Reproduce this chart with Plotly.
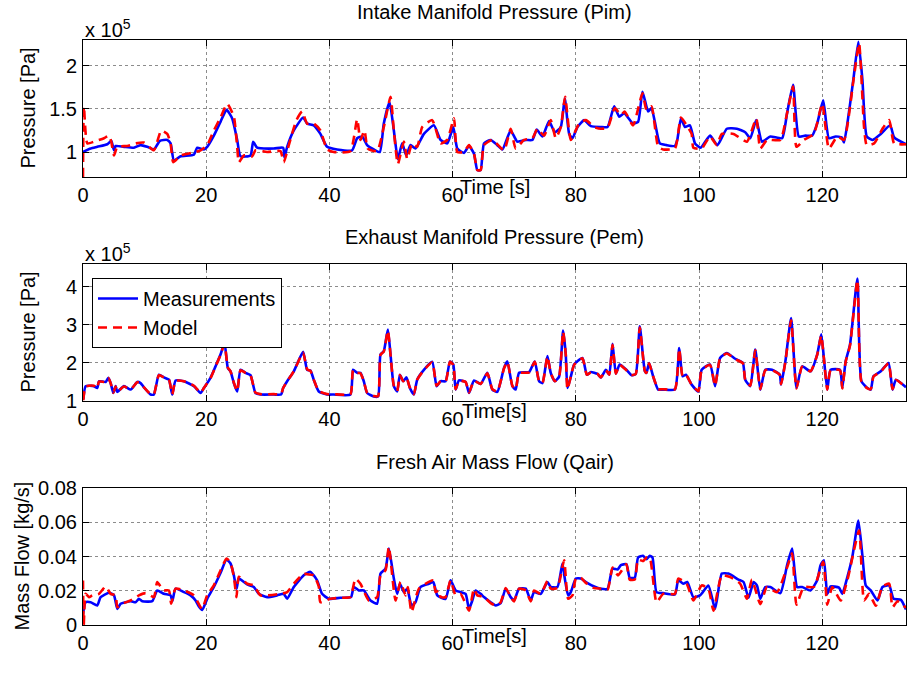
import plotly.graph_objects as go
from plotly.subplots import make_subplots

# ---------------- Intake manifold pressure (x 1e5 Pa) ----------------
t_pim_meas = [0, 1.24, 2.32, 3.95, 4.59, 5.03, 5.30, 6.65, 8.27, 9.35, 10.43, 11.51, 12.49, 13.68, 14.22,
              14.76, 15.84, 18.0, 18.54, 19.62, 20.16, 21.24, 22.32, 23.30, 24.22, 25.03, 25.57, 27.19,
              27.62, 28.27, 30.97, 32.49, 32.70, 33.14, 34.22, 35.73, 36.38, 37.46, 38.54, 39.62, 41.24,
              43.68, 44.50, 45.31, 46.12, 47.21, 48.18, 48.83, 49.76, 50.46, 51.11, 51.82, 52.47, 53.17,
              53.98, 55.34, 56.96, 58.05, 59.13, 60.11, 60.76, 61.84, 62.66, 63.47, 64.01, 64.55, 65.09,
              66.18, 67.26, 68.08, 69.43, 70.51, 71.87, 72.95, 73.66, 74.58, 75.66, 76.59, 77.56, 78.21,
              78.92, 79.46, 80.27, 81.36, 82.44, 84.07, 85.15, 86.23, 87.05, 87.86, 89.29, 90.11, 90.82,
              91.74, 92.28, 92.83, 93.64, 94.73, 96.09, 96.47, 97.07, 97.72, 98.53, 99.35, 100.27, 101.79,
              102.99, 104.51, 106.14, 107.50, 108.32, 109.29, 110.22, 111.58, 113.48, 114.29, 115.27,
              116.20, 117.28, 118.37, 119.18, 120.16, 121.09, 122.17, 123.15, 123.53, 124.08, 125.05,
              125.87, 126.52, 127.23, 128.15, 129.51, 131.03, 131.68, 133.6]
pim_meas = [1.00, 1.04, 1.06, 1.09, 1.13, 1.02, 1.07, 1.06, 1.05, 1.08, 1.06, 1.03, 1.13, 1.14, 1.10,
            0.90, 0.95, 0.97, 1.05, 1.03, 1.06, 1.19, 1.35, 1.49, 1.39, 1.14, 0.95, 0.96,
            1.12, 1.05, 1.04, 1.05, 0.94, 1.06, 1.25, 1.40, 1.33, 1.31, 1.21, 1.06, 1.03,
            1.02, 1.16, 1.18, 1.08, 1.03, 1.00, 1.33, 1.58, 1.25, 0.92, 1.10, 0.96, 1.08,
            1.04, 1.21, 1.31, 1.14, 1.10, 1.29, 1.04, 0.99, 1.07, 0.98, 0.79, 0.79, 1.10,
            1.14, 1.08, 1.03, 1.25, 1.12, 1.14, 1.14, 1.26, 1.18, 1.36, 1.23, 1.29, 1.62,
            1.21, 1.16, 1.29, 1.37, 1.30, 1.29, 1.29, 1.53, 1.41, 1.45, 1.33, 1.35, 1.70,
            1.47, 1.51, 1.35, 1.10, 1.08, 1.07, 1.14, 1.39, 1.29, 1.31, 1.10, 1.05, 1.19,
            1.08, 1.27, 1.27, 1.23, 1.16, 1.37, 1.12, 1.18, 1.16, 1.45, 1.78,
            1.18, 1.19, 1.19, 1.33, 1.60, 1.16, 1.18, 1.17, 1.11, 1.33, 1.84,
            2.28, 1.84, 1.18, 1.14, 1.21, 1.31, 1.17, 1.09]

t_pim_model = [0, 0.15, 0.70, 1.78, 3.41, 4.22, 4.59, 5.03, 5.57, 7.19, 8.54, 9.89, 11.51, 12.70, 13.68,
               14.22, 14.65, 15.84, 18.27, 19.08, 20.16, 21.24, 22.32, 23.41, 24.49, 25.03, 25.30, 26.11,
               27.46, 28.0, 29.89, 32.05, 32.59, 33.41, 34.65, 35.57, 36.38, 37.46, 38.54, 39.62, 40.70,
               43.41, 44.50, 45.04, 45.69, 46.23, 47.75, 48.83, 49.92, 50.46, 51.11, 52.09, 52.63, 53.44,
               54.25, 55.07, 56.69, 58.05, 59.13, 60.22, 60.76, 61.84, 62.66, 63.47, 64.01, 64.55, 65.09,
               66.45, 68.35, 69.43, 70.24, 71.60, 72.95, 73.77, 74.85, 75.93, 76.75, 77.56, 78.27, 79.19,
               80.54, 81.63, 82.98, 84.07, 85.15, 86.34, 87.32, 87.93, 89.29, 90.82, 91.47, 92.28, 93.37,
               94.18, 96.09, 97.07, 97.99, 98.80, 99.08, 100.43, 101.79, 102.88, 103.70, 105.60, 107.77,
               109.29, 109.95, 111.03, 113.21, 114.29, 115.27, 115.82, 117.01, 118.64, 120.0, 121.09,
               122.45, 123.53, 125.05, 125.98, 126.79, 127.23, 128.42, 129.78, 130.87, 131.68, 133.6]
pim_model = [0.71, 1.53, 1.10, 1.12, 1.16, 1.19, 1.12, 0.96, 1.06, 1.07, 1.10, 1.11, 1.02, 1.25, 1.21,
             1.10, 0.88, 0.96, 1.00, 1.02, 1.08, 1.25, 1.40, 1.56, 1.41, 1.06, 0.88, 0.96,
             0.95, 1.02, 1.00, 1.01, 0.88, 1.08, 1.37, 1.47, 1.33, 1.33, 1.25, 1.03, 1.00,
             1.01, 1.38, 1.14, 1.25, 1.04, 1.01, 1.29, 1.64, 1.25, 0.86, 1.12, 0.92, 1.10,
             1.06, 1.29, 1.37, 1.10, 1.14, 1.39, 1.00, 1.00, 1.08, 0.98, 0.79, 0.79, 1.08,
             1.14, 1.02, 1.27, 1.04, 1.14, 1.16, 1.27, 1.19, 1.37, 1.16, 1.29, 1.64, 1.14,
             1.33, 1.37, 1.29, 1.27, 1.28, 1.51, 1.43, 1.47, 1.31, 1.68, 1.49, 1.53, 1.06,
             1.03, 1.04, 1.40, 1.31, 1.21, 1.05, 1.04, 1.18, 1.08, 1.21, 1.21, 1.12,
             1.39, 1.04, 1.14, 1.14, 1.45, 1.76, 1.06, 1.14, 1.21, 1.56, 1.04,
             1.18, 1.14, 1.82, 2.26, 1.29, 1.08, 1.10, 1.27, 1.37, 1.10, 1.09]

# ---------------- Exhaust manifold pressure (x 1e5 Pa) ----------------
t_pem = [0.05, 0.43, 1.78, 2.32, 2.59, 3.68, 4.11, 4.49, 4.92, 5.30, 5.57, 6.65, 7.73, 8.81, 9.35, 9.89,
         10.97, 11.51, 12.32, 13.14, 13.95, 14.49, 15.03, 16.38, 18.0, 19.08, 19.62, 20.70, 21.51, 22.32,
         22.97, 23.51, 23.95, 24.49, 25.03, 25.57, 26.38, 27.19, 28.0, 28.81, 30.97, 32.16, 32.49, 33.14,
         34.22, 35.73, 36.38, 36.92, 37.46, 38.27, 39.62, 40.70, 43.41, 43.84, 44.50, 45.04, 45.58, 46.12,
         47.21, 47.91, 48.29, 48.83, 49.49, 49.92, 50.46, 51.0, 51.44, 51.98, 52.52, 53.06, 53.71, 54.25,
         55.34, 56.69, 57.40, 58.05, 58.86, 59.57, 60.11, 60.49, 61.03, 62.11, 62.66, 63.47, 64.55, 65.64,
         66.45, 67.26, 68.35, 68.89, 69.70, 70.24, 70.79, 72.41, 73.33, 74.04, 74.58, 75.39, 75.93, 76.59,
         77.29, 77.94, 78.37, 78.64, 79.19, 79.73, 81.08, 81.79, 82.44, 83.52, 84.07, 84.88, 85.42, 85.96,
         86.50, 87.12, 88.21, 89.02, 89.73, 90.38, 91.20, 91.47, 91.90, 92.55, 93.37, 94.18, 96.09, 96.79,
         97.34, 97.88, 98.80, 99.89, 100.43, 101.79, 102.61, 103.42, 104.51, 105.87, 107.12, 107.50,
         108.32, 109.13, 109.95, 110.76, 111.85, 113.10, 113.32, 114.02, 114.95, 115.82, 116.74, 118.10,
         119.18, 119.84, 120.27, 120.82, 121.36, 122.88, 123.26, 123.80, 124.51, 125.71, 126.36, 127.34,
         127.88, 128.32, 129.51, 130.76, 131.41, 131.96, 133.6]
pem_meas = [1.04, 1.39, 1.39, 1.34, 1.52, 1.50, 1.61, 1.47, 1.21, 1.39, 1.24, 1.39, 1.30, 1.50, 1.47, 1.36,
            1.17, 1.17, 1.69, 1.62, 1.56, 1.17, 1.54, 1.52, 1.39, 1.21, 1.34, 1.61, 1.91, 2.22,
            2.53, 1.87, 1.78, 1.47, 1.25, 1.82, 1.74, 1.68, 1.21, 1.17, 1.17, 1.17, 1.34, 1.52,
            1.78, 2.29, 1.82, 1.80, 1.56, 1.25, 1.17, 1.17, 1.17, 1.82, 1.74, 1.74, 1.52, 1.21,
            1.12, 1.12, 2.22, 2.31, 2.88, 2.22, 1.39, 1.25, 1.69, 1.52, 1.62, 1.34, 1.17, 1.56,
            1.82, 2.03, 1.39, 1.52, 1.52, 2.04, 1.96, 1.30, 1.54, 1.50, 1.21, 1.54, 1.45, 1.74,
            1.30, 1.24, 1.87, 2.04, 1.39, 1.30, 1.74, 1.76, 2.04, 1.52, 1.47, 2.18, 1.74, 1.52,
            1.64, 2.85, 2.22, 1.34, 1.64, 1.96, 2.13, 1.69, 1.76, 1.71, 1.62, 1.82, 1.69, 2.50,
            1.72, 1.96, 1.82, 1.68, 1.71, 2.96, 1.79, 1.74, 2.00, 1.65, 1.30, 1.30, 1.30, 2.39,
            1.65, 1.69, 1.43, 1.25, 1.82, 1.96, 1.39, 2.13, 2.26, 2.11, 2.00, 1.56,
            1.39, 2.35, 1.30, 1.82, 1.82, 1.69, 1.43, 2.04, 3.18, 1.34, 1.91, 1.78,
            2.22, 2.75, 2.13, 1.30, 1.82, 1.82, 1.34, 2.04, 2.48, 4.22, 1.52, 1.34,
            1.30, 1.65, 1.78, 2.00, 1.30, 1.56, 1.36]
pem_model = [1.02, 1.38, 1.40, 1.33, 1.51, 1.50, 1.60, 1.47, 1.22, 1.38, 1.25, 1.38, 1.31, 1.49, 1.47, 1.36,
             1.18, 1.18, 1.68, 1.62, 1.56, 1.18, 1.53, 1.52, 1.40, 1.22, 1.34, 1.60, 1.90, 2.21,
             2.50, 1.88, 1.78, 1.48, 1.26, 1.81, 1.74, 1.67, 1.22, 1.18, 1.18, 1.18, 1.34, 1.52,
             1.78, 2.27, 1.83, 1.79, 1.56, 1.26, 1.18, 1.18, 1.18, 1.81, 1.74, 1.73, 1.52, 1.22,
             1.13, 1.13, 2.21, 2.30, 2.85, 2.22, 1.40, 1.26, 1.68, 1.52, 1.61, 1.35, 1.18, 1.56,
             1.81, 2.02, 1.40, 1.52, 1.51, 2.03, 1.95, 1.31, 1.53, 1.50, 1.22, 1.53, 1.45, 1.73,
             1.31, 1.25, 1.86, 2.03, 1.40, 1.31, 1.73, 1.75, 2.03, 1.52, 1.47, 2.17, 1.74, 1.52,
             1.64, 2.82, 2.22, 1.31, 1.64, 1.95, 2.12, 1.69, 1.75, 1.71, 1.62, 1.81, 1.69, 2.48,
             1.72, 1.95, 1.81, 1.68, 1.71, 2.93, 1.79, 1.74, 1.99, 1.65, 1.31, 1.31, 1.31, 2.37,
             1.65, 1.69, 1.43, 1.26, 1.81, 1.95, 1.40, 2.12, 2.25, 2.10, 1.99, 1.56,
             1.40, 2.33, 1.31, 1.81, 1.81, 1.69, 1.44, 2.03, 3.12, 1.33, 1.90, 1.78,
             2.21, 2.72, 2.12, 1.30, 1.81, 1.81, 1.33, 2.03, 2.46, 4.18, 1.51, 1.33,
             1.31, 1.64, 1.77, 1.99, 1.31, 1.55, 1.36]

# ---------------- Fresh air mass flow (kg/s) ----------------
t_qair_meas = [0, 0.43, 1.24, 2.32, 2.86, 4.22, 5.03, 5.57, 6.11, 7.73, 8.54, 9.08, 9.62, 11.24, 12.05,
               13.14, 14.22, 14.49, 15.03, 16.38, 17.46, 18.27, 18.81, 19.35, 20.16, 21.24, 22.32, 23.30,
               23.95, 24.49, 24.92, 25.30, 26.65, 27.73, 28.54, 29.89, 31.51, 32.59, 33.14, 34.22, 35.84,
               36.92, 38.0, 38.81, 39.89, 41.78, 43.51, 43.95, 44.77, 45.58, 46.67, 47.75, 48.29, 49.11,
               49.65, 50.46, 51.0, 51.44, 52.09, 52.63, 53.33, 53.98, 54.80, 56.15, 56.86, 57.51, 58.86,
               59.67, 60.49, 61.30, 62.11, 62.66, 63.20, 63.74, 64.55, 65.09, 66.18, 66.99, 67.80, 68.62,
               69.43, 69.97, 70.79, 71.87, 72.68, 73.22, 74.31, 75.39, 75.93, 77.02, 77.83, 78.21, 78.75,
               79.19, 80.0, 80.81, 81.63, 82.98, 84.07, 85.15, 85.96, 86.78, 87.32, 88.21, 88.75, 89.57,
               90.11, 90.92, 91.47, 92.01, 92.45, 93.10, 94.18, 96.09, 96.63, 97.45, 98.10, 99.08, 100.16,
               101.52, 102.61, 103.70, 104.78, 106.41, 107.23, 108.04, 108.86, 109.40, 109.95, 110.76,
               111.58, 113.21, 114.29, 115.11, 115.92, 116.74, 118.10, 119.18, 119.73, 120.27, 120.82,
               121.36, 122.72, 123.26, 124.08, 124.89, 125.87, 126.52, 127.07, 127.88, 128.97, 129.78,
               130.87, 131.58, 132.77, 133.6]
qair_meas = [0.0065, 0.0133, 0.0133, 0.0114, 0.0163, 0.0188, 0.0173, 0.0094, 0.0124, 0.0139, 0.0133,
             0.0153, 0.0139, 0.0139, 0.0202, 0.0182, 0.0173, 0.0139, 0.0212, 0.0192, 0.0173, 0.0143,
             0.0108, 0.0088, 0.0153, 0.0222, 0.0304, 0.0382, 0.0359, 0.0290, 0.0212, 0.0271, 0.0237,
             0.0222, 0.0182, 0.0163, 0.0173, 0.0182, 0.0153, 0.0222, 0.0290, 0.0310, 0.0261, 0.0182,
             0.0153, 0.0159, 0.0163, 0.0222, 0.0202, 0.0202, 0.0143, 0.0124, 0.0300, 0.0329, 0.0447,
             0.0271, 0.0182, 0.0241, 0.0192, 0.0212, 0.0114, 0.0133, 0.0222, 0.0241, 0.0251, 0.0173,
             0.0153, 0.0261, 0.0202, 0.0192, 0.0182, 0.0094, 0.0143, 0.0202, 0.0182, 0.0163, 0.0133,
             0.0114, 0.0128, 0.0212, 0.0163, 0.0143, 0.0212, 0.0212, 0.0143, 0.0192, 0.0182, 0.0251,
             0.0222, 0.0222, 0.0359, 0.0271, 0.0173, 0.0192, 0.0271, 0.0271, 0.0251, 0.0225, 0.0212,
             0.0212, 0.0329, 0.0324, 0.0349, 0.0355, 0.0276, 0.0276, 0.0394, 0.0404, 0.0384, 0.0404,
             0.0394, 0.0192, 0.0186, 0.0178, 0.0261, 0.0241, 0.0251, 0.0163, 0.0173, 0.0231, 0.0094,
             0.0300, 0.0300, 0.0265, 0.0251, 0.0159, 0.0251, 0.0231, 0.0153, 0.0222, 0.0222, 0.0186,
             0.0349, 0.0447, 0.0222, 0.0222, 0.0202, 0.0261, 0.0349, 0.0378, 0.0182, 0.0225, 0.0218,
             0.0182, 0.0280, 0.0398, 0.0610, 0.0406, 0.0231, 0.0202, 0.0143, 0.0222, 0.0231, 0.0153,
             0.0147, 0.0090]

t_qair_model = [0, 0.12, 0.43, 0.97, 1.51, 2.59, 3.68, 4.49, 5.30, 5.57, 6.38, 7.73, 9.08, 10.16, 11.51,
                12.05, 13.03, 13.95, 14.32, 15.03, 16.38, 18.0, 19.08, 19.35, 20.16, 21.24, 22.32, 23.30,
                23.95, 24.49, 24.92, 25.30, 26.65, 27.73, 28.81, 32.05, 33.14, 34.22, 35.84, 36.38, 37.46,
                38.27, 38.54, 40.16, 41.78, 43.41, 44.23, 45.04, 46.40, 47.75, 48.29, 49.11, 49.65, 50.73,
                51.55, 52.36, 52.74, 53.33, 54.53, 56.86, 57.24, 57.78, 58.05, 58.86, 59.67, 60.49, 61.30,
                62.66, 63.47, 64.01, 65.09, 66.18, 66.99, 67.80, 68.62, 69.43, 69.97, 70.79, 71.87, 72.68,
                73.22, 74.31, 75.39, 75.93, 77.02, 78.10, 78.75, 79.46, 80.0, 80.81, 81.63, 82.98, 84.07,
                85.15, 85.96, 86.85, 88.21, 88.75, 89.57, 90.11, 90.92, 91.47, 92.01, 93.10, 94.18, 96.09,
                96.63, 97.99, 99.08, 100.43, 101.52, 102.34, 103.70, 105.05, 106.68, 107.77, 108.59,
                109.95, 111.03, 112.66, 114.29, 115.11, 115.82, 117.01, 118.64, 120.16, 120.82, 121.63,
                122.99, 124.08, 125.98, 126.79, 127.61, 128.70, 129.78, 130.87, 131.41, 132.23, 133.6]
qair_model = [0.0260, 0.0000, 0.0182, 0.0163, 0.0173, 0.0182, 0.0225, 0.0182, 0.0173, 0.0104, 0.0124,
              0.0143, 0.0173, 0.0186, 0.0163, 0.0251, 0.0202, 0.0202, 0.0124, 0.0212, 0.0202, 0.0173,
              0.0104, 0.0094, 0.0173, 0.0231, 0.0318, 0.0388, 0.0363, 0.0282, 0.0163, 0.0282, 0.0241,
              0.0231, 0.0173, 0.0182, 0.0192, 0.0241, 0.0300, 0.0296, 0.0290, 0.0225, 0.0133, 0.0153,
              0.0159, 0.0163, 0.0271, 0.0241, 0.0143, 0.0163, 0.0290, 0.0320, 0.0457, 0.0143, 0.0251,
              0.0173, 0.0222, 0.0075, 0.0212, 0.0261, 0.0192, 0.0202, 0.0163, 0.0163, 0.0261, 0.0173,
              0.0182, 0.0084, 0.0212, 0.0173, 0.0163, 0.0128, 0.0114, 0.0133, 0.0216, 0.0163, 0.0138,
              0.0212, 0.0202, 0.0138, 0.0202, 0.0182, 0.0256, 0.0212, 0.0216, 0.0378, 0.0153, 0.0173,
              0.0271, 0.0276, 0.0246, 0.0216, 0.0212, 0.0206, 0.0335, 0.0290, 0.0355, 0.0265, 0.0265,
              0.0382, 0.0373, 0.0394, 0.0394, 0.0133, 0.0182, 0.0182, 0.0271, 0.0241, 0.0143, 0.0231,
              0.0212, 0.0084, 0.0290, 0.0280, 0.0241, 0.0153, 0.0265, 0.0122, 0.0222, 0.0192, 0.0335,
              0.0418, 0.0118, 0.0222, 0.0222, 0.0369, 0.0118, 0.0222, 0.0143, 0.0261, 0.0551, 0.0143,
              0.0182, 0.0112, 0.0225, 0.0241, 0.0104, 0.0139, 0.0100]

# ---------------- axis settings ----------------
x_ticks = [0, 20, 40, 60, 80, 100, 120]
x_max = 133.6
pim_ticks, pim_range = [1, 1.5, 2], [0.71, 2.3]
pem_ticks, pem_range = [1, 2, 3, 4], [1, 4.6]
qair_ticks, qair_range = [0, 0.02, 0.04, 0.06, 0.08], [0, 0.08]
pim_ticktext = ["1", "1.5", "2"]
pem_ticktext = ["1", "2", "3", "4"]
qair_ticktext = ["0", "0.02", "0.04", "0.06", "0.08"]

titles = ["Intake Manifold Pressure (Pim)", "Exhaust Manifold Pressure (Pem)", "Fresh Air Mass Flow (Qair)"]
xlabels = ["Time [s]", "Time[s]", "Time[s]"]
ylabels = ["Pressure [Pa]", "Pressure [Pa]", "Mass Flow [kg/s]"]

W, H = 911, 677
FONT = "Liberation Sans, Arial, Helvetica, sans-serif"
FS = 20
BLUE, RED = "#0000ff", "#ff0000"

# plot boxes in pixels (top, bottom) and horizontal extent
boxes = [(40, 177), (264, 401), (488, 625)]
left_px, right_px = 83, 906

fig = make_subplots(rows=3, cols=1)

series = [
    (t_pim_meas, pim_meas, t_pim_model, pim_model),
    (t_pem, pem_meas, t_pem, pem_model),
    (t_qair_meas, qair_meas, t_qair_model, qair_model),
]
for i, (tm, ym, tmod, ymod) in enumerate(series, start=1):
    fig.add_trace(go.Scatter(x=tm, y=ym, mode="lines", name="Measurements",
                             line=dict(color=BLUE, width=2.6, shape="spline", smoothing=0.5),
                             showlegend=(i == 2)), row=i, col=1)
    fig.add_trace(go.Scatter(x=tmod, y=ymod, mode="lines", name="Model",
                             line=dict(color=RED, width=2.6, dash="9px,6px", shape="spline", smoothing=0.5),
                             showlegend=(i == 2)), row=i, col=1)

yticks = [(pim_ticks, pim_ticktext, pim_range), (pem_ticks, pem_ticktext, pem_range),
          (qair_ticks, qair_ticktext, qair_range)]

axis_common = dict(showline=True, linecolor="black", linewidth=1, mirror="allticks",
                   ticks="inside", ticklen=6, tickcolor="black", tickwidth=1,
                   showgrid=True, gridcolor="#8c8c8c", griddash="dot", gridwidth=1,
                   zeroline=False, automargin=False,
                   tickfont=dict(family=FONT, size=FS, color="black"))

for i, (top, bot) in enumerate(boxes, start=1):
    tv, tt, rg = yticks[i - 1]
    fig.update_yaxes(domain=[1 - bot / H, 1 - top / H], range=rg, tickvals=tv, ticktext=tt,
                     ticklabelstandoff=1, row=i, col=1, **axis_common)
    fig.update_xaxes(domain=[left_px / W, right_px / W], range=[0, x_max], tickvals=x_ticks,
                     ticklabelstandoff=0, row=i, col=1, **axis_common)

annotations = []
title_y = [12, 237, 462]
xlabel_y = [187, 411, 636]
ylabel_x = [27, 27, 21]
cx = (left_px + right_px) / 2
for i, (top, bot) in enumerate(boxes):
    annotations.append(dict(text=titles[i], x=cx / W, y=1 - title_y[i] / H, xref="paper", yref="paper",
                            showarrow=False, xanchor="center", yanchor="middle",
                            font=dict(family=FONT, size=FS, color="black")))
    annotations.append(dict(text=xlabels[i], x=cx / W, y=1 - xlabel_y[i] / H, xref="paper", yref="paper",
                            showarrow=False, xanchor="center", yanchor="middle",
                            font=dict(family=FONT, size=FS, color="black")))
    annotations.append(dict(text=ylabels[i], x=ylabel_x[i] / W, y=1 - (top + bot) / 2 / H,
                            xref="paper", yref="paper", showarrow=False, textangle=-90,
                            xanchor="center", yanchor="middle",
                            font=dict(family=FONT, size=FS, color="black")))

# exponent labels above the two pressure axes
for ypx in (28, 253):
    annotations.append(dict(text="x 10<sup>5</sup>", x=left_px / W, y=1 - ypx / H, xref="paper",
                            yref="paper", showarrow=False, xanchor="left", yanchor="middle",
                            font=dict(family=FONT, size=FS, color="black")))

fig.update_layout(
    width=W, height=H,
    margin=dict(l=0, r=0, t=0, b=0, autoexpand=False),
    paper_bgcolor="white", plot_bgcolor="white",
    annotations=annotations,
    showlegend=True,
    legend=dict(x=92 / W, y=1 - 278 / H, xref="paper", yref="paper", xanchor="left", yanchor="top",
                bgcolor="white", bordercolor="black", borderwidth=1,
                font=dict(family=FONT, size=FS, color="black"),
                tracegroupgap=2, itemwidth=40),
)

# drop the default page margin so the figure sits at the window origin
fig.write_html("out.html",
               post_script="document.body.style.margin='0px';document.body.style.overflow='hidden';")
